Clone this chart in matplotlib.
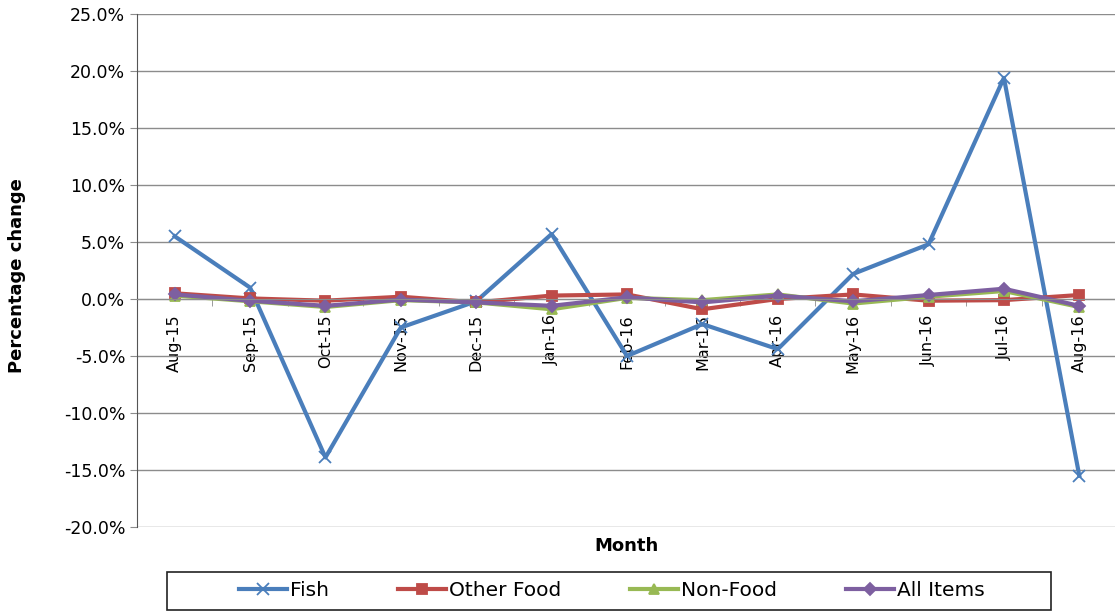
import matplotlib
matplotlib.use("Agg")
import matplotlib.pyplot as plt
from matplotlib.ticker import FuncFormatter, FixedLocator
from matplotlib.patches import Rectangle
import numpy as np

months = ["Aug-15", "Sep-15", "Oct-15", "Nov-15", "Dec-15", "Jan-16", "Feb-16",
          "Mar-16", "Apr-16", "May-16", "Jun-16", "Jul-16", "Aug-16"]
fish = [5.5, 1.0, -13.9, -2.5, -0.2, 5.7, -5.0, -2.2, -4.4, 2.2, 4.8, 19.4, -15.5]
other_food = [0.5, 0.05, -0.15, 0.2, -0.3, 0.3, 0.4, -0.9, 0.0, 0.4, -0.15, -0.1, 0.35]
non_food = [0.3, -0.2, -0.7, -0.1, -0.3, -0.9, 0.1, -0.1, 0.4, -0.4, 0.2, 0.7, -0.7]
all_items = [0.4, -0.15, -0.6, -0.05, -0.3, -0.6, 0.15, -0.3, 0.3, -0.2, 0.35, 0.9, -0.6]

W, H = 1115, 613
fig = plt.figure(figsize=(W / 100, H / 100), dpi=100)
ax = fig.add_axes([137/W, 1 - 527/H, (1117-137)/W, (527-14)/H])

x = np.arange(len(months))
series = [
    ("Fish", fish, "#4A7EBB", "x", 8),
    ("Other Food", other_food, "#BE4B48", "s", 7),
    ("Non-Food", non_food, "#98B954", "^", 7),
    ("All Items", all_items, "#7D5FA0", "D", 6),
]
for name, vals, col, mk, ms in series:
    ax.plot(x, vals, color=col, lw=3, marker=mk, markersize=ms,
            markeredgecolor=col, markerfacecolor=col, markeredgewidth=1.3, label=name)

ax.set_xlim(-0.5, len(months) - 0.5)
ax.set_ylim(-20, 25)
ax.set_yticks(np.arange(-20, 25.1, 5))
ax.yaxis.set_major_formatter(FuncFormatter(lambda v, p: f"{v:.1f}%"))
ax.grid(axis="y", color="#8c8c8c", lw=1)
ax.set_axisbelow(True)

ax.spines["bottom"].set_position(("data", 0))
ax.spines["bottom"].set_color("#8c8c8c")
ax.spines["top"].set_visible(False)
ax.spines["right"].set_visible(False)
ax.spines["left"].set_color("#555555")

ax.set_xticks(x)
ax.set_xticklabels(months, rotation=90, fontsize=11.5, va="top")
ax.tick_params(axis="x", which="major", length=0, pad=11)
ax.xaxis.set_minor_locator(FixedLocator(np.arange(-0.5, len(months), 1)))
ax.tick_params(axis="x", which="minor", length=5, color="#8c8c8c")
ax.tick_params(axis="y", labelsize=12.5, length=5, color="#8c8c8c")

ax.set_ylabel("Percentage change", fontsize=13, fontweight="bold")
ax.yaxis.set_label_coords((26 - 137) / 980, 0.49)
fig.text((137 + 1117) / 2 / W, 1 - 546 / H, "Month", ha="center", va="center",
         fontsize=13, fontweight="bold")

# legend box
fig.patches.append(Rectangle((167/W, 1 - 610/H), (1051-167)/W, (610-572)/H,
                             transform=fig.transFigure, facecolor="white",
                             edgecolor="#222222", lw=1.2, zorder=1))
leg = fig.legend(loc="center", bbox_to_anchor=(612/W, 1 - 591/H), ncol=4,
                 fontsize=14.5, frameon=False,
                 handlelength=2.4, handletextpad=0.15, columnspacing=3.4,
                 borderpad=0.2, borderaxespad=0)

fig.savefig("out.png", dpi=100)
